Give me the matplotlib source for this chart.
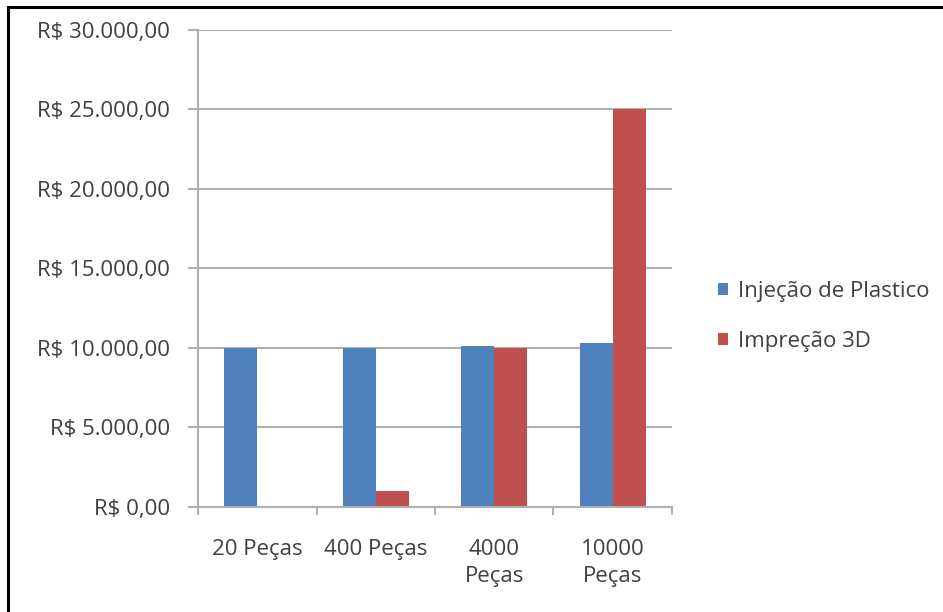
import numpy as np
import matplotlib.pyplot as plt
from matplotlib.patches import Rectangle
from matplotlib.ticker import FuncFormatter

plt.rcParams['font.family'] = ['Open Sans', 'DejaVu Sans']

# Dados
categorias = ['20 Peças', '400 Peças', '4000\nPeças', '10000\nPeças']
injecao = [10000, 10000, 10100, 10300]
impressao = [0, 1000, 10000, 25000]
series = ['Injeção de Plastico', 'Impreção 3D']

azul = '#4f81bd'
vermelho = '#c0504d'
cinza = '#b0b0b0'
texto = '#404040'
fs = 16

fig = plt.figure(figsize=(9.43, 6.12), dpi=100)
ax = fig.add_axes([0.21, 0.1716, 0.5026, 0.7794])

x = np.arange(len(categorias))
w = 0.28
ax.bar(x - w / 2, injecao, w, color=azul, label=series[0])
ax.bar(x + w / 2, impressao, w, color=vermelho, label=series[1])

ax.set_xlim(-0.5, len(categorias) - 0.5)
ax.set_ylim(0, 30000)
ax.set_yticks(np.arange(0, 30001, 5000))


def reais(v, pos):
    s = f'{v:,.2f}'.replace(',', 'X').replace('.', ',').replace('X', '.')
    return 'R$ ' + s


ax.yaxis.set_major_formatter(FuncFormatter(reais))
ax.set_xticks(x)
ax.set_xticklabels(categorias, linespacing=1.4)
ax.set_xticks(np.arange(-0.5, len(categorias)), minor=True)
ax.tick_params(axis='x', which='major', length=0, pad=23, labelsize=fs, labelcolor=texto)
ax.tick_params(axis='x', which='minor', length=6, color=cinza, width=1.5)
ax.tick_params(axis='y', length=7, color=cinza, width=1.5, pad=13, labelsize=fs, labelcolor=texto)

ax.grid(axis='y', color=cinza, linewidth=1.5)
ax.set_axisbelow(True)
for s in ['top', 'right']:
    ax.spines[s].set_visible(False)
for s in ['left', 'bottom']:
    ax.spines[s].set_color(cinza)
    ax.spines[s].set_linewidth(1.5)

leg = fig.legend(loc='center left', bbox_to_anchor=(0.740, 0.483), frameon=False,
                 fontsize=fs, handlelength=0.45, handleheight=0.45, handletextpad=0.45,
                 labelspacing=1.3, labelcolor=texto)

fig.patches.append(Rectangle((8 / 943, -0.1), 1.2, 1 - 7 / 612 + 0.1,
                             transform=fig.transFigure, fill=False,
                             edgecolor='black', linewidth=2.2))

fig.savefig('out.png', dpi=100)
